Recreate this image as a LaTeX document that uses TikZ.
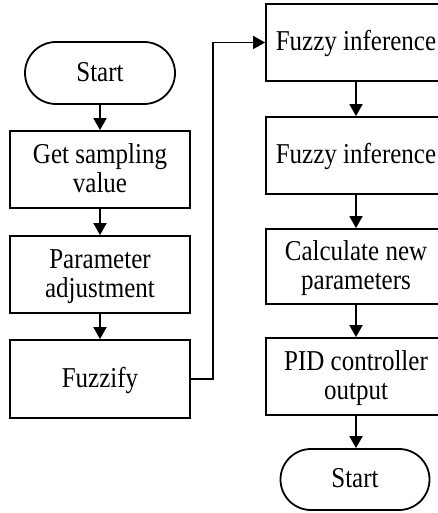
\documentclass[tikz,border=0pt]{standalone}
\usepackage{fontspec}
\setmainfont{Liberation Serif}
\usetikzlibrary{shapes.misc,arrows.meta}
% tall label text, lowered a little inside its box
\newcommand\boxlabel[1]{\raisebox{-2.5pt}[\height][\depth]{\scalebox{1}[1.15]{\fontsize{25}{26}\selectfont\begin{tabular}{@{}c@{}}#1\end{tabular}}}}
\tikzset{
  every node/.style={align=center, inner sep=0pt},
  procbox/.style={draw, line width=1.8pt, rectangle, minimum width=180pt},
  termbox/.style={draw, line width=1.8pt, rounded rectangle, rounded rectangle arc length=180},
  flow/.style={line width=1.8pt, -{Triangle[length=12pt,width=13pt]}}
}
\begin{document}
\begin{tikzpicture}[x=1pt,y=-1pt]
  \useasboundingbox (0,0) rectangle (438,513);
  % left column
  \node[termbox, minimum width=150pt, minimum height=62pt] (start) at (100,73) {\boxlabel{Start}};
  \node[procbox, minimum height=77pt] (sample) at (100,169.5) {\boxlabel{Get sampling\\value}};
  \node[procbox, minimum height=77pt] (adjust) at (100,274.5) {\boxlabel{Parameter\\adjustment}};
  \node[procbox, minimum height=78pt] (fuzz) at (100,379) {\boxlabel{Fuzzify}};
  % right column
  \node[procbox, minimum height=77pt] (inf1) at (356,42.5) {\boxlabel{Fuzzy inference}};
  \node[procbox, minimum height=77pt] (inf2) at (356,155.5) {\boxlabel{Fuzzy inference}};
  \node[procbox, minimum height=75pt] (calc) at (356,266.5) {\boxlabel{Calculate new\\parameters}};
  \node[procbox, minimum height=77pt] (pid) at (356,376.5) {\boxlabel{PID controller\\output}};
  \node[termbox, minimum width=149pt, minimum height=61pt] (stop) at (355,479.5) {\boxlabel{Start}};
  % connectors
  \draw[flow] (start) -- (sample);
  \draw[flow] (sample) -- (adjust);
  \draw[flow] (adjust) -- (fuzz);
  \draw[flow] (fuzz.east) -- ++(22,0) |- (inf1.west);
  \draw[flow] (inf1) -- (inf2);
  \draw[flow] (inf2) -- (calc);
  \draw[flow] (calc) -- (pid);
  \draw[flow] (pid.south) -- (pid.south |- stop.north);
\end{tikzpicture}
\end{document}
